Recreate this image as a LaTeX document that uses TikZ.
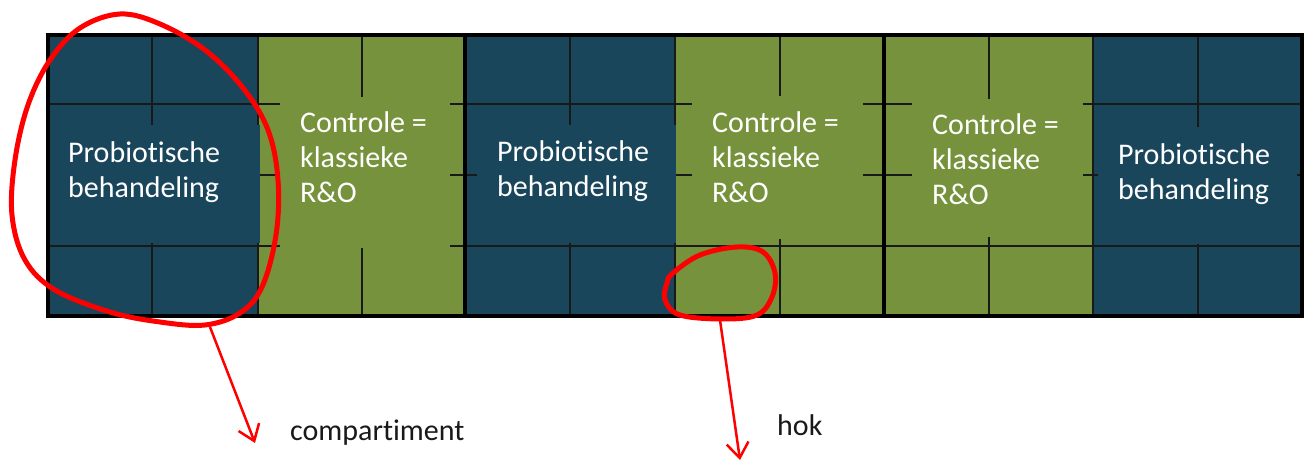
\documentclass[tikz,border=0pt]{standalone}
\usepackage{fontspec}
\setmainfont{Carlito}[Ligatures={NoCommon}]
\usetikzlibrary{arrows.meta}
\definecolor{probblue}{HTML}{1A465C}
\definecolor{ctrlgreen}{HTML}{77923C}
\definecolor{annred}{HTML}{FF0000}
\begin{document}
\begin{tikzpicture}[x=1pt,y=-1pt,
  gridline/.style={line width=1.4pt, draw=black!90},
  sepline/.style={line width=4pt, draw=black},
  lbl/.style={text=white, font=\fontsize{30}{35}\selectfont, align=left, anchor=base west, inner sep=0pt},
  annot/.style={text=black!90, font=\fontsize{30}{35}\selectfont, anchor=base west, inner sep=0pt},
  loopline/.style={draw=annred, line width=5pt},
  pointer/.style={draw=annred, line width=2.5pt, -{Straight Barb[length=15pt,width=22pt,line width=2.5pt]}}
]
\useasboundingbox (0,0) rectangle (1306,462);
\fill[white] (0,0) rectangle (1306,462);

% column fills
\fill[probblue]  (48,35)  rectangle (258,316);
\fill[ctrlgreen] (258,35) rectangle (465,316);
\fill[probblue]  (465,35) rectangle (675,316);
\fill[ctrlgreen] (675,35) rectangle (884,316);
\fill[ctrlgreen] (884,35) rectangle (1093,316);
\fill[probblue]  (1093,35) rectangle (1302,316);

% grid lines (hokken)
\foreach \yy in {104,175,246} \draw[gridline] (48,\yy) -- (1302,\yy);
\foreach \xx in {152,362,570,780,989,1198,258,675,1093} \draw[gridline] (\xx,35) -- (\xx,316);

% label backgrounds covering inner lines
\fill[probblue]  (48,125)  rectangle (259.5,243);
\fill[ctrlgreen] (280,97)  rectangle (450,248);
\fill[probblue]  (477,125) rectangle (676,243);
\fill[ctrlgreen] (692,96)  rectangle (863,239);
\fill[ctrlgreen] (912,99)  rectangle (1083,237);
\fill[probblue]  (1098,127) rectangle (1297,244);

% thick separators and border
\draw[sepline] (465,35) -- (465,316);
\draw[sepline] (884,35) -- (884,316);
\draw[line width=4pt] (48,35) rectangle (1302,316);

% labels (anchor = baseline of last line)
\node[lbl] (p1) at (68,198)   {Probiotische\\behandeling};
\node[lbl] (c1) at (300,203)  {Controle =\\klassieke\\R\&O};
\node[lbl] (p2) at (497,197)  {Probiotische\\behandeling};
\node[lbl] (c2) at (712,203)  {Controle =\\klassieke\\R\&O};
\node[lbl] (c3) at (932,205)  {Controle =\\klassieke\\R\&O};
\node[lbl] (p3) at (1118,200) {Probiotische\\behandeling};

% annotations
\draw[loopline] plot[smooth cycle, tension=0.6] coordinates {
  (120,14) (160,24) (205,50) (243,88) (268,130) (278,180) (276,235)
  (262,287) (240,313) (205,325) (160,322) (110,312) (55,290) (25,260)
  (12,215) (15,160) (28,105) (50,60) (80,28)};
\draw[loopline] plot[smooth cycle, tension=0.6] coordinates {
  (673,273) (700,255) (737,247) (763,252) (775,273) (772,297)
  (757,315) (723,319) (680,315) (665,300) (667,283)};

\coordinate (compfrom) at (210,327);
\coordinate (compto) at (255,443);
\coordinate (hokfrom) at (720,320);
\coordinate (hokto) at (740,460);
\draw[pointer] (compfrom) -- (compto);
\draw[pointer] (hokfrom) -- (hokto);

\node[annot] (comp) at (290,440) {compartiment};
\node[annot] (hok) at (777,435) {hok};
\end{tikzpicture}
\end{document}
